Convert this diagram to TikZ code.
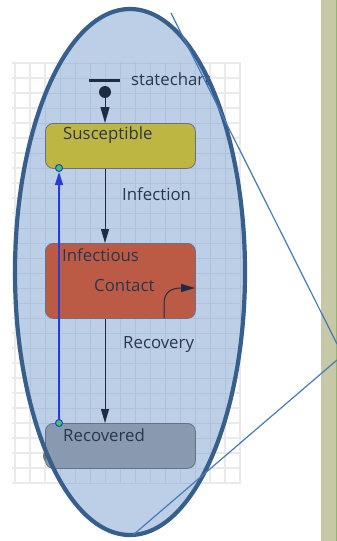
\documentclass[tikz,border=0pt]{standalone}
\usepackage{fontspec}
\setmainfont{Open Sans}
\usetikzlibrary{arrows.meta}

\definecolor{stripfill}{RGB}{198,200,166}
\definecolor{stripedge}{RGB}{140,184,110}
\definecolor{gridout}{RGB}{234,234,234}
\definecolor{gridin}{RGB}{174,194,220}
\definecolor{ellfill}{RGB}{188,207,231}
\definecolor{elledge}{RGB}{56,94,140}
\definecolor{calloutc}{RGB}{72,122,184}
\definecolor{inkc}{RGB}{42,54,76}
\definecolor{arrowc}{RGB}{30,44,66}
\definecolor{susfill}{RGB}{190,182,66}
\definecolor{inffill}{RGB}{188,91,69}
\definecolor{recfill}{RGB}{136,153,176}
\definecolor{boxedge}{RGB}{100,114,134}
\definecolor{backtrans}{RGB}{40,60,215}
\definecolor{pinfill}{RGB}{60,200,90}
\definecolor{hiddenc}{RGB}{120,112,100}

\begin{document}
\begin{tikzpicture}[x=1pt,y=-1pt,
  statebox/.style={draw=boxedge,line width=0.8pt,rounded corners=8pt,
    minimum width=150pt,minimum height=45pt,inner sep=0pt,anchor=north west},
  stxt/.style={text=inkc,font=\fontsize{16.8}{17}\selectfont,inner sep=0pt,anchor=west},
  trans/.style={draw=arrowc,line width=1pt,-{Triangle[length=14pt,width=8pt]}},
  pin/.style={circle,draw=backtrans,fill=pinfill,line width=1pt,minimum size=7pt,inner sep=0pt},
  callout/.style={draw=calloutc,line width=1.2pt}]
\useasboundingbox (0,0) rectangle (337,541);
\fill[white] (0,0) rectangle (337,541);

% side panel
\fill[stripfill] (321,0) rectangle (337,541);
\draw[stripedge,line width=1pt] (336.5,0) -- (336.5,541);

% background grid of the editor
\foreach \gx in {15,30,...,240} \draw[gridout,line width=1.5pt] (\gx,62) -- (\gx,484);
\foreach \gy in {63,78,...,483} \draw[gridout,line width=1.5pt] (12,\gy) -- (240,\gy);

% magnified region
\fill[ellfill] (130,272) ellipse [x radius=115, y radius=263];
\begin{scope}
  \clip (130,272) ellipse [x radius=115, y radius=263];
  \foreach \gx in {15,30,...,240} \draw[gridin,line width=1pt] (\gx,62) -- (\gx,484);
  \foreach \gy in {63,78,...,483} \draw[gridin,line width=1pt] (12,\gy) -- (240,\gy);
\end{scope}

% element partly hidden behind the last state
\fill[hiddenc] (51,456) circle (8);

% entry point
\node[fill=arrowc,minimum width=31pt,minimum height=3pt,inner sep=0pt] (bar) at (104,80) {};
\node[stxt] (chartname) at (131,79) {statechart};
\node[circle,fill=arrowc,minimum size=12pt,inner sep=0pt] (entry) at (105,92) {};

% states
\node[statebox,fill=susfill] (sus) at (45,123) {};
\node[statebox,fill=inffill,minimum height=75pt] (inf) at (45,243) {};
\node[statebox,fill=recfill] (rec) at (45,423) {};

\node[stxt] (susname) at (63,135) {Susceptible};
\node[stxt] (infname) at (62,255) {Infectious};
\node[stxt] (contname) at (94,285) {Contact};
\node[stxt] (recname) at (63,435) {Recovered};

% transitions
\draw[trans,-{Triangle[length=16pt,width=9pt]}] (entry) -- (entry |- sus.north);
\draw[trans] (sus.south -| entry) -- (inf.north -| entry);
\draw[trans] (inf.south -| entry) -- (rec.north -| entry);
\node[stxt] (infection) at (122,194) {Infection};
\node[stxt] (recovery) at (123,345) {Recovery};

\coordinate (cstart) at (164,318);
\coordinate (cend) at (195,288);
\draw[trans] (cstart) -- (164,304) .. controls (164,293) and (170,288) .. (cend);

% return transition
\coordinate (pbot) at (59,423);
\coordinate (ptop) at (59,168);
\draw[draw=backtrans,line width=1.2pt,-{Triangle[length=13pt,width=8pt]}] (pbot) -- ([yshift=-4pt]ptop);
\node[pin] (pinb) at (pbot) {};
\node[pin] (pint) at (ptop) {};

% outline of the magnified region
\draw[elledge,line width=4.2pt] (130,272) ellipse [x radius=115, y radius=263];

% callout lines
\coordinate (c1a) at (171,13);
\coordinate (c1b) at (337,344);
\coordinate (c2a) at (133,535);
\coordinate (c2b) at (337,360);
\draw[callout] (c1a) -- (c1b);
\draw[callout] (c2a) -- (c2b);
\end{tikzpicture}
\end{document}
